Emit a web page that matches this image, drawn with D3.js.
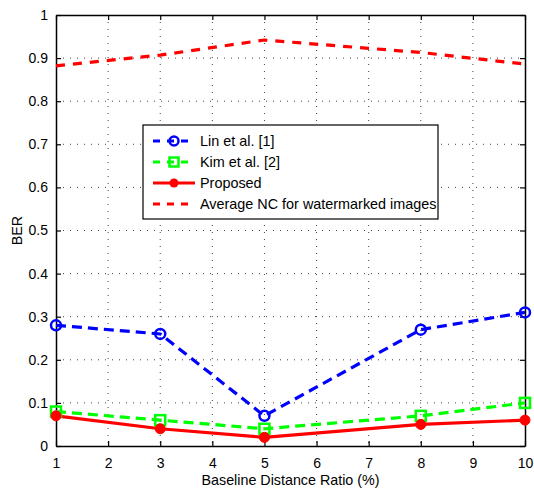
<!DOCTYPE html>
<html>
<head>
<meta charset="utf-8">
<script src="https://cdn.jsdelivr.net/npm/d3@7"></script>
<style>
  body { margin: 0; background: #fff; }
  text { font-family: "Liberation Sans", Arial, sans-serif; fill: #000; }
</style>
</head>
<body>
<svg id="chart" width="534" height="489"></svg>
<script>
// data
const ratios = [1, 3, 5, 8, 10];
const linBER = [0.28, 0.26, 0.07, 0.27, 0.31];
const kimBER = [0.08, 0.06, 0.04, 0.07, 0.10];
const proposedBER = [0.07, 0.04, 0.02, 0.05, 0.06];
const avgNC = [0.882, 0.907, 0.942, 0.913, 0.886];
const xTicks = [1, 2, 3, 4, 5, 6, 7, 8, 9, 10];
const yTicks = [0, 0.1, 0.2, 0.3, 0.4, 0.5, 0.6, 0.7, 0.8, 0.9, 1];
const legendLabels = ["Lin et al. [1]", "Kim et al. [2]", "Proposed", "Average NC for watermarked images"];

const margin = {left: 56, top: 15, right: 9, bottom: 43};
const width = 534 - margin.left - margin.right;
const height = 489 - margin.top - margin.bottom;

let svg = d3.select("#chart");
let g = svg.append("g").attr("transform", "translate(" + margin.left + "," + margin.top + ")");

let x = d3.scaleLinear().domain([1, 10]).range([0, width]);
let y = d3.scaleLinear().domain([0, 1]).range([height, 0]);

// grid
g.append("g").selectAll("line").data(xTicks.slice(1, -1)).join("line")
    .attr("x1", d => x(d)).attr("x2", d => x(d))
    .attr("y1", 0).attr("y2", height)
    .attr("stroke", "#444").attr("stroke-width", 1).attr("stroke-dasharray", "1,6");
g.append("g").selectAll("line").data(yTicks.slice(1, -1)).join("line")
    .attr("x1", 0).attr("x2", width)
    .attr("y1", d => y(d)).attr("y2", d => y(d))
    .attr("stroke", "#444").attr("stroke-width", 1).attr("stroke-dasharray", "1,6");

// axes, ticks pointing in
let fmt = d => d === 0 ? "0" : d === 1 ? "1" : d3.format(".1f")(d);
g.append("g").attr("transform", "translate(0," + height + ")")
    .call(d3.axisBottom(x).tickValues(xTicks).tickSizeInner(-5).tickSizeOuter(0).tickPadding(12));
g.append("g")
    .call(d3.axisLeft(y).tickValues(yTicks).tickFormat(fmt).tickSizeInner(-5).tickSizeOuter(0).tickPadding(8));
g.append("g")
    .call(d3.axisTop(x).tickValues(xTicks).tickFormat("").tickSizeInner(-5).tickSizeOuter(0));
g.append("g").attr("transform", "translate(" + width + ",0)")
    .call(d3.axisRight(y).tickValues(yTicks).tickFormat("").tickSizeInner(-5).tickSizeOuter(0));
g.selectAll(".domain").attr("stroke", "#000").attr("stroke-width", 1.5);
g.selectAll(".tick line").attr("stroke", "#000").attr("stroke-width", 1.2);
g.selectAll(".tick text").style("font-size", "14px").attr("fill", "#000");

// series
let line = d3.line().x(d => x(d[0])).y(d => y(d[1]));
let pair = vals => ratios.map((r, i) => [r, vals[i]]);

g.append("path").datum(pair(avgNC)).attr("d", line)
    .attr("fill", "none").attr("stroke", "#ff0000").attr("stroke-width", 3.2).attr("stroke-dasharray", "9,8");
g.append("path").datum(pair(linBER)).attr("d", line)
    .attr("fill", "none").attr("stroke", "#0000ff").attr("stroke-width", 3.2).attr("stroke-dasharray", "10,6");
g.append("path").datum(pair(kimBER)).attr("d", line)
    .attr("fill", "none").attr("stroke", "#00ff00").attr("stroke-width", 3.2).attr("stroke-dasharray", "10,6");
g.append("path").datum(pair(proposedBER)).attr("d", line)
    .attr("fill", "none").attr("stroke", "#ff0000").attr("stroke-width", 3.2);

g.append("g").selectAll("circle").data(pair(linBER)).join("circle")
    .attr("cx", d => x(d[0])).attr("cy", d => y(d[1])).attr("r", 5)
    .attr("fill", "none").attr("stroke", "#0000ff").attr("stroke-width", 2.5);
g.append("g").selectAll("rect").data(pair(kimBER)).join("rect")
    .attr("x", d => x(d[0]) - 5).attr("y", d => y(d[1]) - 5).attr("width", 10).attr("height", 10)
    .attr("fill", "none").attr("stroke", "#00ff00").attr("stroke-width", 2.5);
g.append("g").selectAll("circle").data(pair(proposedBER)).join("circle")
    .attr("cx", d => x(d[0])).attr("cy", d => y(d[1])).attr("r", 5)
    .attr("fill", "#ff0000").attr("stroke", "#ff0000").attr("stroke-width", 1);

// axis labels
svg.append("text").attr("x", margin.left + width / 2).attr("y", 485)
    .attr("text-anchor", "middle").style("font-size", "14.3px").text("Baseline Distance Ratio (%)");
svg.append("text").attr("transform", "translate(22," + (margin.top + height / 2) + ") rotate(-90)")
    .attr("text-anchor", "middle").style("font-size", "14.3px").text("BER");

// legend
let leg = svg.append("g").attr("transform", "translate(143,125)");
leg.append("rect").attr("width", 295).attr("height", 94)
    .attr("fill", "#fff").attr("stroke", "#000").attr("stroke-width", 1.2);
let styles = [
  {color: "#0000ff", dash: "7,7", marker: "circle"},
  {color: "#00ff00", dash: "7,7", marker: "square"},
  {color: "#ff0000", dash: null, marker: "dot"},
  {color: "#ff0000", dash: "7,7", marker: null}
];
legendLabels.forEach(function(label, i) {
  let row = leg.append("g").attr("transform", "translate(0," + (16 + i * 21) + ")");
  let s = styles[i];
  row.append("line").attr("x1", 10).attr("x2", 52).attr("y1", 0).attr("y2", 0)
      .attr("stroke", s.color).attr("stroke-width", 3)
      .attr("stroke-dasharray", s.dash);
  if (s.marker === "circle") {
    row.append("circle").attr("cx", 31).attr("cy", 0).attr("r", 4.5)
        .attr("fill", "none").attr("stroke", s.color).attr("stroke-width", 2.5);
  } else if (s.marker === "square") {
    row.append("rect").attr("x", 26.5).attr("y", -4.5).attr("width", 9).attr("height", 9)
        .attr("fill", "none").attr("stroke", s.color).attr("stroke-width", 2.5);
  } else if (s.marker === "dot") {
    row.append("circle").attr("cx", 31).attr("cy", 0).attr("r", 4.5).attr("fill", s.color);
  }
  row.append("text").attr("x", 57).attr("y", 5).style("font-size", "14.4px").text(label);
});
</script>
</body>
</html>
